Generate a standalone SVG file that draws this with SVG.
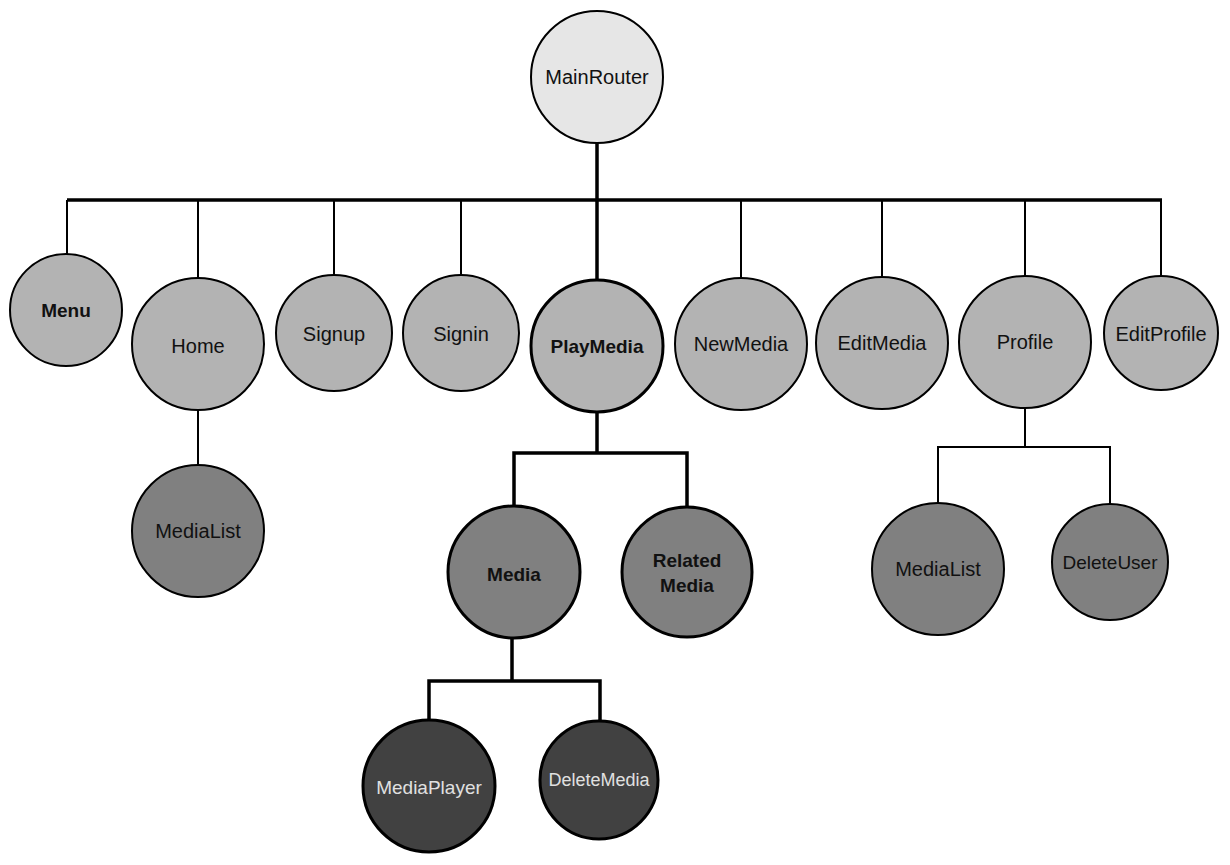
<svg xmlns="http://www.w3.org/2000/svg" width="1230" height="865" viewBox="0 0 1230 865">
<style>
.n{stroke:#000;stroke-width:2}
.nb{stroke:#000;stroke-width:3}
.l0{fill:#e6e6e6}
.l1{fill:#b3b3b3}
.l2{fill:#808080}
.l3{fill:#414141}
text{font-family:"Liberation Sans",Arial,sans-serif;font-size:20px;text-anchor:middle;fill:#111}
.b{font-weight:bold;font-size:19px}
.lt{fill:#e0e0e0}
.c{fill:none;stroke:#000;stroke-width:2}
.ct{fill:none;stroke:#000;stroke-width:3.5}
</style>
<rect width="1230" height="865" fill="#fff"/>
<g id="connectors">
<path class="ct" d="M597 143V200M67 200H1162"/>
<path class="c" d="M67 200V255M198 200V278M334 200V275M461 200V275M741 200V277M882 200V277M1025 200V276M1161 200V275"/>
<path class="ct" d="M597 200V280"/>
<path class="c" d="M198 410V465"/>
<path class="ct" d="M597 412V453M514 506V453H687V506"/>
<path class="ct" d="M512 638V681M429 720V681H600V720"/>
<path class="c" d="M1025 408V447M938 504V447H1110V504"/>
</g>
<g id="MainRouter"><circle class="n l0" cx="597" cy="77" r="66"/><text x="597" y="84">MainRouter</text></g>
<g id="Menu"><circle class="n l1" cx="66" cy="310" r="56"/><text class="b" x="66" y="317">Menu</text></g>
<g id="Home"><circle class="n l1" cx="198" cy="344" r="66"/><text x="198" y="353">Home</text></g>
<g id="Signup"><circle class="n l1" cx="334" cy="333" r="58"/><text x="334" y="341">Signup</text></g>
<g id="Signin"><circle class="n l1" cx="461" cy="333" r="58"/><text x="461" y="341">Signin</text></g>
<g id="PlayMedia"><circle class="nb l1" cx="597" cy="346" r="66"/><text class="b" x="597" y="353">PlayMedia</text></g>
<g id="NewMedia"><circle class="n l1" cx="741" cy="344" r="66"/><text x="741" y="351">NewMedia</text></g>
<g id="EditMedia"><circle class="n l1" cx="882" cy="343" r="66"/><text x="882" y="350">EditMedia</text></g>
<g id="Profile"><circle class="n l1" cx="1025" cy="342" r="66"/><text x="1025" y="349">Profile</text></g>
<g id="EditProfile"><circle class="n l1" cx="1161" cy="333" r="57"/><text x="1161" y="341">EditProfile</text></g>
<g id="HomeMediaList"><circle class="n l2" cx="198" cy="531" r="66"/><text x="198" y="538">MediaList</text></g>
<g id="Media"><circle class="nb l2" cx="514" cy="572" r="66"/><text class="b" x="514" y="581">Media</text></g>
<g id="RelatedMedia"><circle class="nb l2" cx="687" cy="572" r="65"/><text class="b" x="687" y="567">Related</text><text class="b" x="687" y="592">Media</text></g>
<g id="ProfileMediaList"><circle class="n l2" cx="938" cy="569" r="66"/><text x="938" y="576">MediaList</text></g>
<g id="DeleteUser"><circle class="n l2" cx="1110" cy="562" r="58"/><text x="1110" y="569" style="font-size:19px">DeleteUser</text></g>
<g id="MediaPlayer"><circle class="nb l3" cx="429" cy="786" r="66"/><text class="lt" x="429" y="794" style="font-size:19px">MediaPlayer</text></g>
<g id="DeleteMedia"><circle class="nb l3" cx="599" cy="780" r="59"/><text class="lt" x="599" y="786" style="font-size:18px">DeleteMedia</text></g>
</svg>
